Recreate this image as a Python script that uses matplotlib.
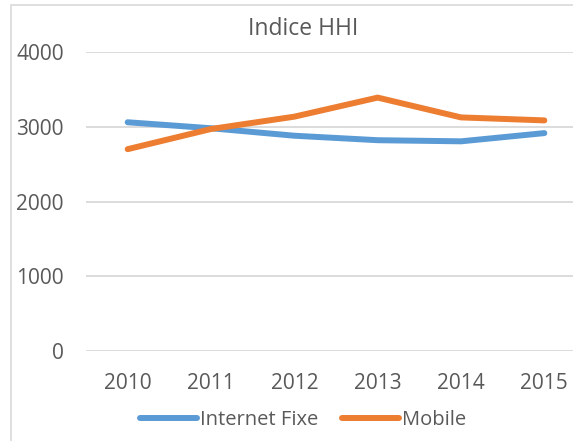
import matplotlib.pyplot as plt
from matplotlib.patches import Rectangle

# HHI values per year
years = ['2010', '2011', '2012', '2013', '2014', '2015']
internet_fixe = [3060, 2980, 2880, 2820, 2805, 2915]
mobile = [2700, 2970, 3135, 3390, 3125, 3085]
yticks = [0, 1000, 2000, 3000, 4000]

plt.rcParams['font.family'] = ['Open Sans', 'DejaVu Sans']
text_col = '#595959'
grid_col = '#D9D9D9'

fig = plt.figure(figsize=(5.73, 4.41), dpi=100)

# chart frame (cropped on the right)
fig.patches.append(Rectangle((11 / 573, -0.05), 1.0, (441 - 5) / 441 + 0.05,
                             transform=fig.transFigure, fill=False,
                             edgecolor=grid_col, linewidth=1.2))

ax = fig.add_axes([86 / 573, (441 - 351) / 441, 1 - 86 / 573, (351 - 52) / 441])
x = range(len(years))
ax.plot(x, internet_fixe, color='#5B9BD5', lw=4.3, solid_capstyle='round', label='Internet Fixe')
ax.plot(x, mobile, color='#ED7D31', lw=4.3, solid_capstyle='round', label='Mobile')

ax.set_ylim(0, 4000)
ax.set_xlim(-0.5, 5.5 - 13 / 83.2)
ax.set_yticks(yticks)
ax.set_xticks(list(x))
ax.set_xticklabels(years)
ax.grid(axis='y', color=grid_col, lw=1.3)
ax.set_axisbelow(True)
for s in ax.spines.values():
    s.set_visible(False)
ax.tick_params(length=0, labelsize=15, colors=text_col)
ax.tick_params(axis='x', pad=16)
ax.tick_params(axis='y', pad=16)

fig.text(303 / 573, 1 - 29 / 441, 'Indice HHI', ha='center', va='center',
         fontsize=16.5, color=text_col)

fig.legend(loc='center', bbox_to_anchor=(303 / 573, 1 - 420 / 441), ncol=2,
           frameon=False, fontsize=14.5, handlelength=2.8, handletextpad=0.15,
           columnspacing=1.2, labelcolor=text_col)

fig.savefig('out.png', dpi=100)
